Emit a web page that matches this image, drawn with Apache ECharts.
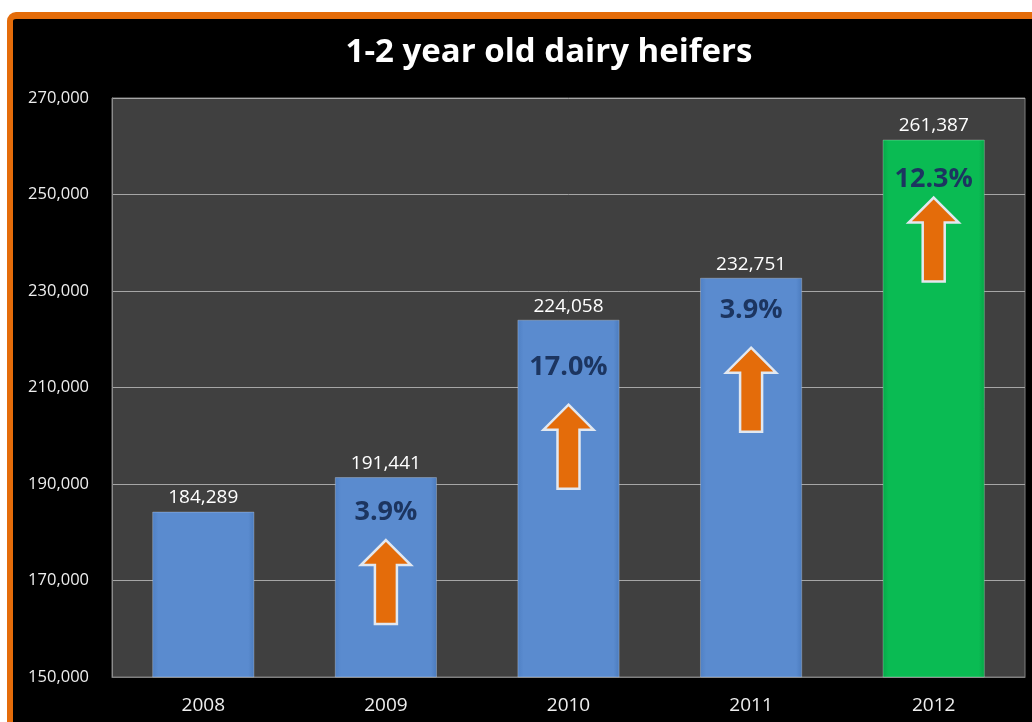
<!DOCTYPE html>
<html>
<head>
<meta charset="utf-8">
<script src="https://cdn.jsdelivr.net/npm/echarts@6/dist/echarts.min.js"></script>
<style>
  html, body { margin: 0; padding: 0; background: #ffffff; overflow: hidden; }
  #frame {
    position: absolute; left: 7px; top: 12px; width: 1060px; height: 740px;
    background: #000000; border-left: 6px solid #e46c0a; border-top: 7px solid #e46c0a;
    border-top-left-radius: 9px; box-sizing: border-box;
  }
  #chart { position: absolute; left: 0; top: 0; width: 1032px; height: 722px; }
</style>
</head>
<body>
<div id="frame"></div>
<div id="chart"></div>
<script>
// Dairy heifers aged 1-2 years, by year
const years = ['2008', '2009', '2010', '2011', '2012'];
const heifers = [184289, 191441, 224058, 232751, 261387];
const yTicks = { min: 150000, max: 270000, interval: 20000 };

// Year-on-year growth, shown inside each bar after the first
const growth = heifers.map((v, i) => i === 0 ? null : ((v / heifers[i - 1] - 1) * 100).toFixed(1) + '%');

// Placement of the growth text and arrow below each bar top (pixels)
const textDrop = [0, 35, 48, 33, 40];
const arrowDrop = [0, 63, 85, 70, 58];
const arrowLen = 84;

const chart = echarts.init(document.getElementById('chart'), null, { renderer: 'canvas' });

const blueBar = {
  type: 'linear', x: 0, y: 0, x2: 1, y2: 0,
  colorStops: [
    { offset: 0, color: '#4f80c4' }, { offset: 0.06, color: '#5a8bcf' },
    { offset: 0.94, color: '#5a8bcf' }, { offset: 1, color: '#4b7bbd' }
  ]
};
const greenBar = {
  type: 'linear', x: 0, y: 0, x2: 1, y2: 0,
  colorStops: [
    { offset: 0, color: '#06a849' }, { offset: 0.06, color: '#0abb53' },
    { offset: 0.94, color: '#0abb53' }, { offset: 1, color: '#05a546' }
  ]
};

function arrowShape(cx, top, len) {
  const headW = 25, headH = 25, shaftW = 11;
  return [
    [cx, top], [cx + headW, top + headH], [cx + shaftW, top + headH],
    [cx + shaftW, top + len], [cx - shaftW, top + len], [cx - shaftW, top + headH],
    [cx - headW, top + headH]
  ];
}

const option = {
  backgroundColor: 'transparent',
  animation: false,
  title: {
    text: '1-2 year old dairy heifers',
    left: 544, top: 31, textAlign: 'center',
    textStyle: { color: '#ffffff', fontSize: 33, fontWeight: 'bold', fontFamily: 'Open Sans' }
  },
  grid: {
    left: 112, right: 7, top: 98, bottom: 45,
    show: true, backgroundColor: '#404040', borderColor: '#7f7f7f', borderWidth: 1
  },
  xAxis: {
    type: 'category', data: years,
    axisLine: { show: true, lineStyle: { color: '#7f7f7f' } },
    axisTick: { show: false },
    axisLabel: { color: '#eeeeee', fontSize: 19, fontFamily: 'Open Sans', margin: 19 }
  },
  yAxis: {
    type: 'value', min: yTicks.min, max: yTicks.max, interval: yTicks.interval,
    axisLine: { show: true, lineStyle: { color: '#8c8c8c' } },
    axisTick: { show: false },
    splitLine: { lineStyle: { color: '#a6a6a6', width: 1 } },
    axisLabel: {
      color: '#eeeeee', fontSize: 16.5, fontFamily: 'Open Sans', margin: 23,
      formatter: v => v.toLocaleString('en-US')
    }
  },
  series: [
    {
      type: 'bar',
      data: heifers.map((v, i) => ({
        value: v,
        itemStyle: { color: i === heifers.length - 1 ? greenBar : blueBar }
      })),
      barWidth: '56%',
      itemStyle: { borderColor: 'rgba(255,255,255,0.25)', borderWidth: 1 },
      label: {
        show: true, position: 'top', distance: 4,
        color: '#ffffff', fontSize: 19, fontFamily: 'Open Sans',
        formatter: p => p.value.toLocaleString('en-US')
      },
      z: 2
    },
    {
      type: 'custom',
      data: heifers.map((v, i) => [i, v]),
      z: 5,
      renderItem: function (params, api) {
        const i = api.value(0);
        if (!growth[i]) return null;
        const top = api.coord([i, api.value(1)]);
        const cx = top[0];
        return {
          type: 'group',
          children: [
            {
              type: 'text',
              style: {
                text: growth[i], x: cx, y: top[1] + textDrop[i],
                textAlign: 'center', textVerticalAlign: 'middle',
                fill: '#1c3560', font: 'bold 27px "Open Sans"'
              }
            },
            {
              type: 'polygon',
              shape: { points: arrowShape(cx, top[1] + arrowDrop[i], arrowLen) },
              style: { fill: '#e46c0a', stroke: '#e2e8f0', lineWidth: 2.5, lineJoin: 'miter' }
            }
          ]
        };
      }
    }
  ]
};

chart.setOption(option);
</script>
</body>
</html>
